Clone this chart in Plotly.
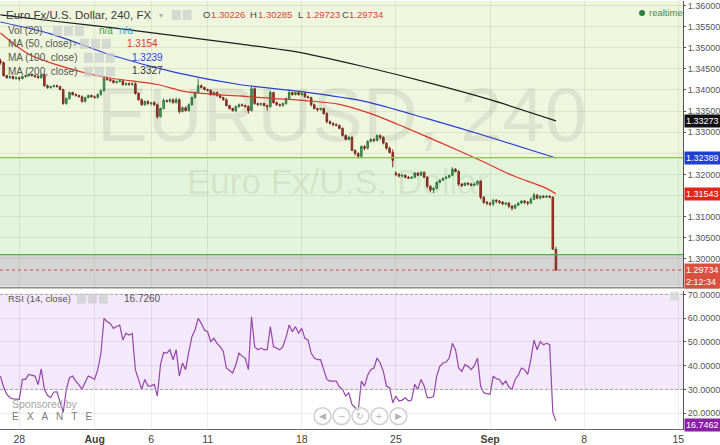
import plotly.graph_objects as go

# ---------------- data (EUR/USD, 240 min bars, Jul 25 - Sep 4) ----------------
bar_first, bar_last = -6, 171          # bar index, 0 = Jul 28 00:00
bars = list(range(bar_first, bar_last + 1))

opens = [1.3469,1.3465,1.3434,1.3429,1.3432,1.3427,1.3429,1.3427,1.3432,1.3434,
         1.3436,1.3434,1.3432,1.3429,1.3436,1.3410,1.3406,1.3408,1.3410,1.3408,
         1.3401,1.3368,1.3380,1.3394,1.3389,1.3387,1.3384,1.3373,1.3382,1.3387,
         1.3384,1.3382,1.3389,1.3399,1.3427,1.3425,1.3422,1.3418,1.3420,1.3422,
         1.3413,1.3415,1.3413,1.3415,1.3392,1.3377,1.3365,1.3373,1.3368,1.3370,
         1.3365,1.3337,1.3356,1.3375,1.3373,1.3377,1.3370,1.3377,1.3349,1.3358,
         1.3351,1.3365,1.3382,1.3394,1.3410,1.3406,1.3401,1.3399,1.3389,1.3394,
         1.3387,1.3382,1.3377,1.3363,1.3356,1.3351,1.3361,1.3365,1.3363,1.3361,
         1.3351,1.3403,1.3368,1.3365,1.3368,1.3363,1.3361,1.3394,1.3370,1.3365,
         1.3363,1.3368,1.3380,1.3394,1.3389,1.3394,1.3389,1.3392,1.3384,1.3382,
         1.3365,1.3356,1.3354,1.3356,1.3344,1.3325,1.3321,1.3318,1.3316,1.3309,
         1.3292,1.3283,1.3288,1.3257,1.3250,1.3243,1.3266,1.3262,1.3278,1.3283,
         1.3281,1.3292,1.3288,1.3274,1.3262,1.3252,1.3203,1.3200,1.3196,1.3198,
         1.3193,1.3191,1.3193,1.3203,1.3198,1.3205,1.3193,1.3172,1.3163,1.3167,
         1.3181,1.3186,1.3191,1.3193,1.3198,1.3212,1.3207,1.3177,1.3174,1.3179,
         1.3177,1.3174,1.3177,1.3184,1.3146,1.3134,1.3132,1.3130,1.3139,1.3137,
         1.3134,1.3130,1.3132,1.3125,1.3120,1.3127,1.3132,1.3137,1.3134,1.3132,
         1.3141,1.3151,1.3144,1.3148,1.3146,1.3148,1.3146,1.30226]
highs = [1.3474,1.3467,1.3436,1.3434,1.3434,1.3432,1.3432,1.3434,1.3436,1.3439,
         1.3439,1.3436,1.3436,1.3439,1.3439,1.3413,1.3410,1.3413,1.3413,1.3410,
         1.3403,1.3382,1.3396,1.3396,1.3392,1.3389,1.3387,1.3384,1.3389,1.3389,
         1.3387,1.3392,1.3401,1.3432,1.3429,1.3427,1.3425,1.3422,1.3425,1.3425,
         1.3418,1.3418,1.3418,1.3418,1.3394,1.3380,1.3375,1.3375,1.3370,1.3373,
         1.3368,1.3358,1.3380,1.3377,1.3380,1.3380,1.3382,1.3380,1.3361,1.3361,
         1.3368,1.3384,1.3396,1.3427,1.3413,1.3408,1.3403,1.3401,1.3396,1.3396,
         1.3389,1.3384,1.3380,1.3365,1.3358,1.3363,1.3368,1.3368,1.3365,1.3363,
         1.3410,1.3406,1.3370,1.3370,1.3370,1.3365,1.3399,1.3396,1.3373,1.3368,
         1.3370,1.3382,1.3401,1.3396,1.3396,1.3396,1.3394,1.3394,1.3387,1.3384,
         1.3368,1.3358,1.3358,1.3358,1.3347,1.3328,1.3323,1.3321,1.3318,1.3311,
         1.3295,1.3290,1.3290,1.3259,1.3252,1.3269,1.3269,1.3281,1.3285,1.3285,
         1.3295,1.3295,1.3290,1.3276,1.3266,1.3259,1.3207,1.3203,1.3200,1.3200,
         1.3196,1.3196,1.3205,1.3205,1.3207,1.3207,1.3196,1.3174,1.3170,1.3184,
         1.3189,1.3193,1.3196,1.3200,1.3217,1.3215,1.3210,1.3179,1.3181,1.3181,
         1.3179,1.3181,1.3186,1.3186,1.3148,1.3137,1.3134,1.3141,1.3141,1.3139,
         1.3137,1.3134,1.3134,1.3127,1.3130,1.3134,1.3139,1.3139,1.3137,1.3146,
         1.3156,1.3153,1.3151,1.3151,1.3151,1.3151,1.3148,1.30285]
lows = [1.3460,1.3432,1.3427,1.3427,1.3425,1.3425,1.3422,1.3425,1.3429,1.3432,
        1.3432,1.3429,1.3427,1.3427,1.3408,1.3403,1.3403,1.3406,1.3406,1.3399,
        1.3365,1.3365,1.3377,1.3387,1.3384,1.3382,1.3370,1.3370,1.3380,1.3382,
        1.3380,1.3380,1.3387,1.3396,1.3422,1.3420,1.3415,1.3415,1.3418,1.3410,
        1.3410,1.3410,1.3410,1.3389,1.3375,1.3363,1.3363,1.3365,1.3363,1.3363,
        1.3332,1.3335,1.3354,1.3370,1.3370,1.3368,1.3368,1.3344,1.3347,1.3349,
        1.3349,1.3363,1.3380,1.3392,1.3403,1.3399,1.3396,1.3387,1.3387,1.3384,
        1.3380,1.3375,1.3361,1.3354,1.3349,1.3347,1.3358,1.3361,1.3358,1.3344,
        1.3349,1.3365,1.3363,1.3363,1.3361,1.3351,1.3358,1.3368,1.3363,1.3361,
        1.3361,1.3365,1.3377,1.3387,1.3387,1.3387,1.3387,1.3382,1.3380,1.3361,
        1.3354,1.3349,1.3351,1.3342,1.3321,1.3318,1.3314,1.3314,1.3307,1.3290,
        1.3281,1.3281,1.3255,1.3245,1.3238,1.3238,1.3257,1.3259,1.3276,1.3276,
        1.3278,1.3283,1.3271,1.3259,1.3250,1.3217,1.3196,1.3193,1.3193,1.3191,
        1.3189,1.3189,1.3191,1.3196,1.3196,1.3191,1.3167,1.3158,1.3156,1.3165,
        1.3179,1.3184,1.3189,1.3191,1.3196,1.3205,1.3172,1.3170,1.3172,1.3174,
        1.3172,1.3172,1.3174,1.3141,1.3130,1.3127,1.3125,1.3125,1.3132,1.3130,
        1.3127,1.3127,1.3120,1.3115,1.3118,1.3125,1.3130,1.3130,1.3127,1.3130,
        1.3139,1.3141,1.3141,1.3144,1.3144,1.3144,1.3021,1.29723]
closes = [1.3465,1.3434,1.3429,1.3432,1.3427,1.3429,1.3427,1.3432,1.3434,1.3436,
          1.3434,1.3432,1.3429,1.3436,1.3410,1.3406,1.3408,1.3410,1.3408,1.3401,
          1.3368,1.3380,1.3394,1.3389,1.3387,1.3384,1.3373,1.3382,1.3387,1.3384,
          1.3382,1.3389,1.3399,1.3427,1.3425,1.3422,1.3418,1.3420,1.3422,1.3413,
          1.3415,1.3413,1.3415,1.3392,1.3377,1.3365,1.3373,1.3368,1.3370,1.3365,
          1.3337,1.3356,1.3375,1.3373,1.3377,1.3370,1.3377,1.3349,1.3358,1.3351,
          1.3365,1.3382,1.3394,1.3410,1.3406,1.3401,1.3399,1.3389,1.3394,1.3387,
          1.3382,1.3377,1.3363,1.3356,1.3351,1.3361,1.3365,1.3363,1.3361,1.3351,
          1.3403,1.3368,1.3365,1.3368,1.3363,1.3361,1.3394,1.3370,1.3365,1.3363,
          1.3368,1.3380,1.3394,1.3389,1.3394,1.3389,1.3392,1.3384,1.3382,1.3365,
          1.3356,1.3354,1.3356,1.3344,1.3325,1.3321,1.3318,1.3316,1.3309,1.3292,
          1.3283,1.3288,1.3257,1.3250,1.3243,1.3266,1.3262,1.3278,1.3283,1.3281,
          1.3292,1.3288,1.3274,1.3262,1.3252,1.3233,1.3200,1.3196,1.3198,1.3193,
          1.3191,1.3193,1.3203,1.3198,1.3205,1.3193,1.3172,1.3163,1.3167,1.3181,
          1.3186,1.3191,1.3193,1.3198,1.3212,1.3207,1.3177,1.3174,1.3179,1.3177,
          1.3174,1.3177,1.3184,1.3146,1.3134,1.3132,1.3130,1.3139,1.3137,1.3134,
          1.3130,1.3132,1.3125,1.3120,1.3127,1.3132,1.3137,1.3134,1.3132,1.3141,
          1.3151,1.3144,1.3148,1.3146,1.3148,1.3146,1.3023,1.29734]

rsi = [35.6,31,28,26.5,26,26,
       25.8,34.2,34.2,36.3,36,35.6,32,38.6,30,27.5,
       26.5,28.9,29,25,20.3,30,34.9,35.6,33.5,32,
       30,33,35.6,35,34.2,38.3,45,59.9,58.5,57.8,
       55.7,56.5,57.1,50.8,53.6,52.9,53.6,38.3,34.2,30,
       34.2,31.4,31.5,32.1,27.2,40.4,45.6,45.3,46.7,42.5,
       46.7,35.6,41.1,38.3,45.6,52.2,55,59.9,57.8,55,
       54.3,50.1,51.5,49.4,48,46,39,38,36.9,40.4,
       45.3,44,43.2,38.3,60.6,48,46.7,47.4,46.7,46.7,
       56.4,48,47.5,46.7,48,52,57.1,54.3,56.4,53.6,
       55.7,51.5,50.8,45.3,43.2,42.5,42.5,38.3,34.2,33.5,
       33.5,33.5,31,30,27.2,28.6,23.7,22.4,21,33.5,
       31.4,36,38.3,39,43.2,41.1,37.6,31.4,30.7,24.4,
       27.2,25.1,25.5,26.5,25.1,25.5,32.1,30,34.2,31.4,
       26.5,26.5,27,35.6,39.7,41.1,41.5,43.2,49.4,46.7,
       39,37.6,40.4,39.7,38.3,40,43.2,31.4,28.6,28.2,
       27.9,35.6,34.5,34.2,32.1,33.5,31,30,34.2,36,
       39,38.3,36.3,42.5,50.8,46.7,50.1,48.8,49.4,48.8,
       20.3,16.75]

ma200_bars = [-6, 10, 30, 50, 70, 90, 110, 130, 150, 171]
ma200 = [1.3578, 1.3564, 1.3547, 1.3528, 1.3509, 1.3488, 1.3455, 1.3418, 1.3377, 1.3327]
ma100_bars = [-6, 10, 30, 50, 70, 90, 110, 130, 150, 171]
ma100 = [1.3561, 1.3533, 1.3481, 1.3441, 1.3413, 1.3396, 1.3373, 1.3332, 1.3288, 1.3239]
ma50_bars = [-6, -1, 4, 11, 26, 44, 53, 73, 91, 102, 112, 123, 134, 147, 157, 168, 171]
ma50 = [1.3535, 1.3505, 1.3481, 1.3462, 1.3432, 1.3413, 1.3396, 1.3384, 1.3375, 1.3366,
        1.3344, 1.3311, 1.3276, 1.3233, 1.3198, 1.3167, 1.3154]

tick_bars = [0, 24, 42, 60, 90, 120, 150, 180, 210]
tick_text = ["28", "<b>Aug</b>", "6", "11", "18", "25", "<b>Sep</b>", "8", "15"]
price_ticks = [1.300, 1.305, 1.310, 1.320, 1.330, 1.335, 1.340, 1.345, 1.350, 1.355, 1.360]
hidden_price_grid = [1.315, 1.325]   # grid lines whose labels sit under the MA value boxes
rsi_ticks = [20, 30, 40, 50, 60, 70]

level_upper = 1.3240      # horizontal drawing lines
level_lower = 1.3010
last_ohlc = {"O": "1.30226", "H": "1.30285", "L": "1.29723", "C": "1.29734"}
ma_values = {"50": "1.3154", "100": "1.3239", "200": "1.3327"}
rsi_legend_value = "16.7260"
rsi_last_text = "16.7462"
countdown = "2:12:34"

# ---------------- layout helpers ----------------
W, H = 720, 445
PW = 684                      # plot area width in px
FONT = "Liberation Sans, Arial, sans-serif"
def px(x): return x / PW
def py(y): return 1 - y / H

price_range = [1.29340, 1.36108]
rsi_range = [13.3, 71.55]
x_range = [-6.14, 211.48]
grid_price = "rgba(110,130,90,0.14)"
grid_rsi = "rgba(0,0,0,0.07)"

fig = go.Figure()
fig.add_trace(go.Candlestick(
    x=bars, open=opens, high=highs, low=lows, close=closes,
    xaxis="x", yaxis="y", whiskerwidth=0,
    increasing=dict(line=dict(color="#2f7a40", width=1), fillcolor="#55ad66"),
    decreasing=dict(line=dict(color="#7d2a20", width=1), fillcolor="#b03c2c"),
    hoverinfo="skip", showlegend=False))
for xs, ys, col in [(ma200_bars, ma200, "#1e1e1e"), (ma100_bars, ma100, "#2a3fd6"), (ma50_bars, ma50, "#e0352a")]:
    fig.add_trace(go.Scatter(x=xs, y=ys, mode="lines", xaxis="x", yaxis="y",
                             line=dict(color=col, width=1.2, shape="spline", smoothing=0.8),
                             hoverinfo="skip", showlegend=False))
fig.add_trace(go.Scatter(x=bars, y=rsi, mode="lines", xaxis="x2", yaxis="y2",
                         line=dict(color="#9446ab", width=1.2), hoverinfo="skip", showlegend=False))

shapes = []
def rect(x0, x1, y0, y1, fill, yref="y", layer="below", line=None, xref="paper"):
    shapes.append(dict(type="rect", xref=xref, yref=yref, x0=x0, x1=x1, y0=y0, y1=y1,
                       fillcolor=fill, line=line or dict(width=0), layer=layer))
def hline(y, color, width=1, dash="solid", yref="y", layer="below", x0=0, x1=1):
    shapes.append(dict(type="line", xref="paper", yref=yref, x0=x0, x1=x1, y0=y, y1=y,
                       line=dict(color=color, width=width, dash=dash), layer=layer))

# price pane backgrounds
rect(0, 1, level_upper, price_range[1], "#eff6de")
rect(0, 1, level_lower, level_upper, "#e2f4d9")
rect(0, 1, price_range[0], level_lower, "#d4d4d4")
for g in hidden_price_grid:
    hline(g, grid_price, 1, layer="below")
hline(level_upper, "#8cc152", 1.2, layer="above")
hline(level_lower, "#56ad4e", 1.2, layer="above")
hline(closes[-1], "#d9473a", 1, "dot", layer="above")
# rsi pane
rect(0, 1, 30, 70, "#f4e8fb", yref="y2")
hline(70, "#a8a8a8", 1, "3px,2px", yref="y2", layer="above")
hline(30, "#a8a8a8", 1, "3px,2px", yref="y2", layer="above")
# pane separator
hline(py(288), "#8a8a8a", 1.5, yref="paper", layer="above", x0=0, x1=W / PW)

# legend icon boxes
def icon_boxes(x, y, n=3):
    for i in range(n):
        rect(px(x + i * 11), px(x + i * 11 + 9), py(y + 5), py(y - 5), "rgba(205,205,205,0.75)",
             yref="paper", layer="above")
icon_boxes(172, 14, 2)
icon_boxes(53, 30)
icon_boxes(80, 43)
icon_boxes(84, 57)
icon_boxes(84, 71)
icon_boxes(77, 299)
rect(px(671), px(680), py(301), py(292), "rgba(215,215,215,0.8)", yref="paper", layer="above")

# navigation buttons
nav_x = [323, 342, 361, 380, 399]
nav_sym = ["◀", "−", "↻", "+", "▶"]
for cx in nav_x:
    shapes.append(dict(type="circle", xref="paper", yref="paper",
                       x0=px(cx - 8.5), x1=px(cx + 8.5), y0=py(425.5), y1=py(408.5),
                       line=dict(color="#cfcfcf", width=1.5), fillcolor="rgba(255,255,255,0.7)"))

ann = []
def txt(x, y, s, size=10, color="#555", xanchor="left", **kw):
    ann.append(dict(x=px(x), y=py(y), xref="paper", yref="paper", text=s, showarrow=False,
                    font=dict(size=size, color=color, family=kw.pop("family", FONT)),
                    xanchor=xanchor, yanchor="middle", **kw))

# watermark
txt(342, 114, "EURUSD, 240", 76, "rgba(0,0,0,0.075)", "center")
txt(338, 181, "Euro Fx/U.S. Dollar", 35, "rgba(0,0,0,0.075)", "center")

# header legend
txt(4, 14, "Euro Fx/U.S. Dollar, 240, FX", 11.5, "#3a3a3a")
txt(157, 15, "▾", 8, "#b0b0b0", family="DejaVu Sans")
ohlc_x = {"O": 201, "H": 248, "L": 296, "C": 340}
for k, v in last_ohlc.items():
    txt(ohlc_x[k], 14, k, 9.5, "#444")
    txt(ohlc_x[k] + 8, 14, v, 9.5, "#d2473a")
txt(6, 30, "Vol (20)", 10, "#555")
txt(97, 30, "n/a", 10, "#3f9a3f")
txt(117, 30, "n/a", 10, "#3fa6d8")
txt(6, 43, "MA (50, close)", 10, "#555")
txt(71, 44, "▾", 7, "#b0b0b0", family="DejaVu Sans")
txt(125, 43, ma_values["50"], 10, "#e0352a")
txt(6, 57, "MA (100, close)", 10, "#555")
txt(130, 57, ma_values["100"], 10, "#2a3fd6")
txt(6, 71, "MA (200, close)", 10, "#555")
txt(130, 70, ma_values["200"], 10, "#333")
shapes.append(dict(type="circle", xref="paper", yref="paper", x0=px(640), x1=px(646),
                   y0=py(15), y1=py(9), fillcolor="#2e7d3e", line=dict(width=0)))
txt(648, 12, "realtime", 9.5, "#4a8a58")

# rsi legend
txt(6, 299, "RSI (14, close)", 9.5, "#555")
txt(122, 299, rsi_legend_value, 10, "#555")
txt(10, 405, "Sponsored by", 10.5, "#a5a5a5")
txt(10, 417, "E   X   A   N   T   E", 10, "#7a7a7a")
for cx, s in zip(nav_x, nav_sym):
    txt(cx, 417, s, 9, "#b5b5b5", "center", family="DejaVu Sans")

# right axis value boxes
def vbox(yval, text, color, yref="y"):
    ann.append(dict(x=px(685), y=yval, xref="paper", yref=yref, text=text, showarrow=False,
                    font=dict(size=9, color="white", family=FONT), bgcolor=color,
                    xanchor="left", yanchor="middle", align="left", width=33, borderpad=1))
vbox(ma200[-1] + 0.00003, "1.33273", "#111111")
vbox(ma100[-1] - 0.00001, "1.32389", "#1f3fd0")
vbox(ma50[-1] + 0.00003, "1.31543", "#e5251b")
vbox(closes[-1], "1.29734", "#d9503f")
vbox(py(282), countdown, "#d9503f", yref="paper")
vbox(py(425.5), rsi_last_text, "#8c1fa8", yref="paper")

fig.update_layout(
    width=W, height=H, margin=dict(l=0, r=W - PW, t=0, b=0),
    paper_bgcolor="white", plot_bgcolor="white", showlegend=False,
    font=dict(family=FONT, color="#555"),
    xaxis=dict(domain=[0, 1], range=x_range, anchor="y", showticklabels=False,
               tickvals=tick_bars, showgrid=True, gridcolor=grid_price, zeroline=False,
               rangeslider=dict(visible=False), fixedrange=True),
    xaxis2=dict(domain=[0, 1], range=x_range, anchor="y2", matches="x",
                tickvals=tick_bars, ticktext=tick_text, showgrid=True, gridcolor=grid_rsi,
                zeroline=False, showline=True, linecolor="#666", linewidth=1, ticks="",
                tickfont=dict(size=10.5, color="#444"), fixedrange=True),
    yaxis=dict(domain=[py(287), 1], range=price_range, side="right", anchor="x",
               tickvals=price_ticks, tickformat=".5f", showgrid=True, gridcolor=grid_price,
               zeroline=False, showline=True, linecolor="#555", ticks="outside", ticklen=2,
               tickcolor="#555", tickfont=dict(size=9, color="#555"), fixedrange=True),
    yaxis2=dict(domain=[py(430), py(291)], range=rsi_range, side="right", anchor="x2",
                tickvals=rsi_ticks, tickformat=".4f", showgrid=True, gridcolor=grid_rsi,
                zeroline=False, showline=True, linecolor="#555", ticks="outside", ticklen=2,
                tickcolor="#555", tickfont=dict(size=9, color="#555"), fixedrange=True),
    shapes=shapes, annotations=ann,
)
fig.write_html("out.html", config={"displayModeBar": False},
               post_script="document.body.style.margin='0';")
